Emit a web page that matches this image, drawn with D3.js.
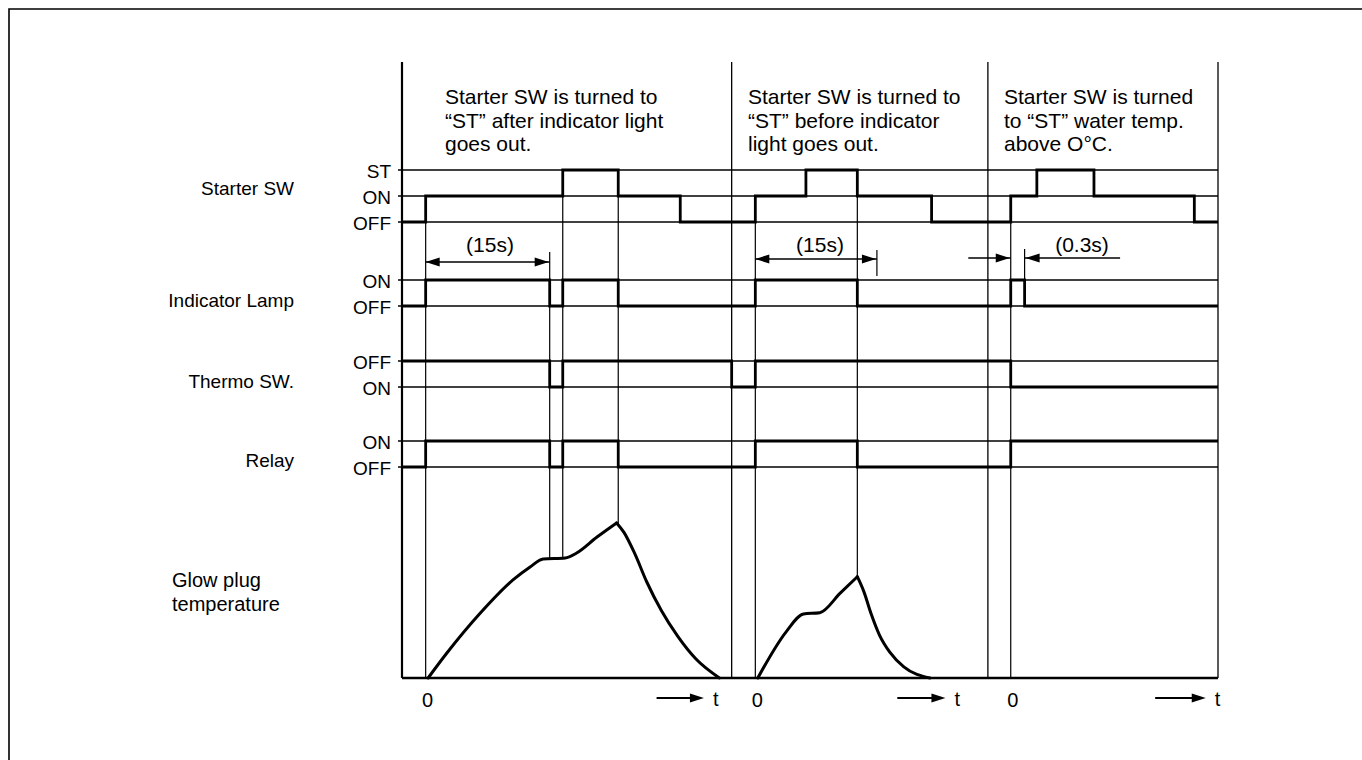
<!DOCTYPE html>
<html lang="en">
<head>
<meta charset="utf-8">
<title>Glow plug timing chart</title>
<script src="https://cdn.jsdelivr.net/npm/d3@7"></script>
<style>
  body { margin: 0; background: #fff; }
  svg text { font-family: "Liberation Sans", Arial, Helvetica, sans-serif; fill: #000; }
</style>
</head>
<body>
<svg id="chart" width="1362" height="760"></svg>
<script>
// time is in arbitrary units, the three cases sit side by side on 0..100
var sectionEdges = [0, 40.4, 71.8, 100];
var zeroTimes = [2.9, 43.3, 74.6];

var signals = ["Starter SW", "Indicator Lamp", "Thermo SW.", "Relay"];
var signalLevels = [["ST", "ON", "OFF"], ["ON", "OFF"], ["OFF", "ON"], ["ON", "OFF"]];

var starterSteps = [[0, "OFF"], [2.9, "ON"], [19.7, "ST"], [26.5, "ON"], [34.1, "OFF"], [43.3, "ON"], [49.5, "ST"], [55.8, "ON"], [64.9, "OFF"], [74.6, "ON"], [77.8, "ST"], [84.8, "ON"], [97.1, "OFF"]];
var lampSteps = [[0, "OFF"], [2.9, "ON"], [18.1, "OFF"], [19.7, "ON"], [26.5, "OFF"], [43.3, "ON"], [55.8, "OFF"], [74.6, "ON"], [76.3, "OFF"]];
var thermoSteps = [[0, "OFF"], [18.1, "ON"], [19.7, "OFF"], [40.4, "ON"], [43.3, "OFF"], [74.6, "ON"]];
var relaySteps = [[0, "OFF"], [2.9, "ON"], [18.1, "OFF"], [19.7, "ON"], [26.5, "OFF"], [43.3, "ON"], [55.8, "OFF"], [74.6, "ON"]];

// glow plug temperature, relative (0 = cold, 100 = top of panel)
var glowRise1 = [[3.2, 0], [5.5, 15.6], [9.6, 40.6], [13.6, 61.3], [15.7, 69.4], [17.3, 74.4], [20.0, 75], [21.4, 78.1], [23.9, 88.1], [26.3, 96.9]];
var glowFall1 = [[26.3, 96.9], [27.2, 91], [28.5, 78], [30.0, 60], [31.8, 42], [33.8, 26], [36.0, 12], [38.9, 0]];
var glowRise2 = [[43.6, 0], [47.1, 29], [49.2, 40], [51.2, 40.8], [53.7, 53], [55.8, 63.3]];
var glowFall2 = [[55.8, 63.3], [56.6, 54], [57.5, 40], [58.5, 27], [59.8, 16], [61.5, 7], [64.7, 0]];

var intervals = [[2.9, 18.1], [43.3, 58.2], [74.6, 76.3]];
var intervalLabels = ["(15s)", "(15s)", "(0.3s)"];

var captions = [
    ["Starter SW is turned to", "\u201cST\u201d after indicator light", "goes out."],
    ["Starter SW is turned to", "\u201cST\u201d before indicator", "light goes out."],
    ["Starter SW is turned", "to \u201cST\u201d water temp.", "above O\u00b0C."]
];

var svg = d3.select("#chart");

var x = d3.scaleLinear().domain([0, 100]).range([402, 1218]);
var yTemp = d3.scaleLinear().domain([0, 100]).range([678, 518]);
var base = yTemp(0);
var top0 = 62;

var rowTop = [170, 280, 361, 441];
var levelGap = 26;
function lv(i, name) {
    return rowTop[i] + signalLevels[i].indexOf(name) * levelGap;
}

// page frame
svg.append("path")
    .attr("d", "M9,760V9H1362")
    .attr("fill", "none").attr("stroke", "#000").attr("stroke-width", 1.6);

// section borders and left axis
svg.selectAll(".edge")
    .data(sectionEdges)
    .enter().append("line")
    .attr("x1", d => x(d)).attr("x2", d => x(d))
    .attr("y1", top0).attr("y2", base)
    .attr("stroke", "#000")
    .attr("stroke-width", (d, i) => i == 0 ? 2.2 : 1.3);

// thin level lines
signals.forEach(function (s, i) {
    signalLevels[i].forEach(function (l) {
        svg.append("line")
            .attr("x1", x(0) - 4).attr("x2", x(100))
            .attr("y1", lv(i, l)).attr("y2", lv(i, l))
            .attr("stroke", "#000").attr("stroke-width", 1.3);
    });
});

// waveforms
var allSteps = [starterSteps, lampSteps, thermoSteps, relaySteps];
var stepLine = d3.line().curve(d3.curveStepAfter);
allSteps.forEach(function (steps, i) {
    var pts = steps.map(d => [x(d[0]), lv(i, d[1])]);
    pts.push([x(100), lv(i, steps[steps.length - 1][1])]);
    svg.append("path")
        .attr("d", stepLine(pts))
        .attr("fill", "none").attr("stroke", "#000")
        .attr("stroke-width", 2.8).attr("stroke-linejoin", "miter");
});

// glow plug curves
var glow = d3.line().x(d => x(d[0])).y(d => yTemp(d[1])).curve(d3.curveMonotoneX);
[glowRise1, glowFall1, glowRise2, glowFall2].forEach(function (g) {
    svg.append("path")
        .attr("d", glow(g))
        .attr("fill", "none").attr("stroke", "#000")
        .attr("stroke-width", 3).attr("stroke-linecap", "round");
});

function curveAt(t) {
    var pts = glowRise1.concat(glowFall1, glowRise2, glowFall2);
    for (var k = 0; k < pts.length - 1; k++) {
        var a = pts[k], b = pts[k + 1];
        if (t >= a[0] && t <= b[0] && b[0] > a[0]) {
            return yTemp(a[1] + (b[1] - a[1]) * (t - a[0]) / (b[0] - a[0]));
        }
    }
    return base;
}

// thin guide lines at switching moments
var guides = [
    {t: zeroTimes[0], y0: lv(0, "ON"), y1: base},
    {t: intervals[0][1], y0: 252, y1: curveAt(intervals[0][1])},
    {t: starterSteps[2][0], y0: lv(0, "ST"), y1: curveAt(starterSteps[2][0])},
    {t: starterSteps[3][0], y0: lv(0, "ST"), y1: curveAt(starterSteps[3][0])},
    {t: zeroTimes[1], y0: lv(0, "ON"), y1: base},
    {t: starterSteps[7][0], y0: lv(0, "ST"), y1: curveAt(starterSteps[7][0])},
    {t: intervals[1][1], y0: 250, y1: 276},
    {t: zeroTimes[2], y0: lv(0, "ON"), y1: base},
    {t: intervals[2][1], y0: 249, y1: lv(1, "ON")}
];
svg.selectAll(".guide")
    .data(guides)
    .enter().append("line")
    .attr("x1", d => x(d.t)).attr("x2", d => x(d.t))
    .attr("y1", d => d.y0).attr("y2", d => d.y1)
    .attr("stroke", "#000").attr("stroke-width", 1.2);

// baseline
svg.append("line")
    .attr("x1", x(0)).attr("x2", x(100))
    .attr("y1", base).attr("y2", base)
    .attr("stroke", "#000").attr("stroke-width", 2.6);

function arrowHead(xTip, y, dir) {
    var len = 14, w = 4.5;
    svg.append("path")
        .attr("d", "M" + xTip + "," + y + "L" + (xTip - dir * len) + "," + (y - w) + "L" + (xTip - dir * len) + "," + (y + w) + "Z")
        .attr("fill", "#000");
}
function hLine(x1, x2, y, w) {
    svg.append("line")
        .attr("x1", x1).attr("x2", x2).attr("y1", y).attr("y2", y)
        .attr("stroke", "#000").attr("stroke-width", w || 1.4);
}

// interval arrows
var arrowY = [262, 259, 258];
hLine(x(intervals[0][0]), x(intervals[0][1]), arrowY[0]);
arrowHead(x(intervals[0][0]), arrowY[0], -1);
arrowHead(x(intervals[0][1]) - 1, arrowY[0], 1);
hLine(x(intervals[1][0]), x(intervals[1][1]), arrowY[1]);
arrowHead(x(intervals[1][0]), arrowY[1], -1);
arrowHead(x(intervals[1][1]) - 1, arrowY[1], 1);
hLine(x(69.4), x(intervals[2][0]), arrowY[2]);
arrowHead(x(intervals[2][0]) - 1, arrowY[2], 1);
hLine(x(intervals[2][1]), x(88.0), arrowY[2]);
arrowHead(x(intervals[2][1]) + 1, arrowY[2], -1);

var labelX = [490, 820, 1082];
intervalLabels.forEach(function (s, i) {
    svg.append("text")
        .attr("x", labelX[i]).attr("y", 252)
        .attr("text-anchor", "middle")
        .attr("font-size", 21)
        .text(s);
});

// captions
var captionX = [445, 748, 1004];
captions.forEach(function (lines, i) {
    lines.forEach(function (s, k) {
        svg.append("text")
            .attr("x", captionX[i]).attr("y", 104 + k * 23.5)
            .attr("font-size", 21)
            .text(s);
    });
});

// signal names and level names
var nameY = [195, 307, 388, 467];
signals.forEach(function (s, i) {
    svg.append("text")
        .attr("x", 294).attr("y", nameY[i])
        .attr("text-anchor", "end")
        .attr("font-size", 19)
        .text(s);
    signalLevels[i].forEach(function (l) {
        svg.append("text")
            .attr("x", 391).attr("y", lv(i, l) + 8)
            .attr("text-anchor", "end")
            .attr("font-size", 19)
            .text(l);
    });
});

svg.append("text").attr("x", 172).attr("y", 587).attr("font-size", 20).text("Glow plug");
svg.append("text").attr("x", 172).attr("y", 611).attr("font-size", 20).text("temperature");

// time axis labels
zeroTimes.forEach(function (t) {
    svg.append("text")
        .attr("x", x(t) + 2).attr("y", 707)
        .attr("text-anchor", "middle")
        .attr("font-size", 20)
        .text("0");
});
var tArrows = [[31.2, 37.0], [60.7, 66.6], [92.3, 98.5]];
tArrows.forEach(function (a) {
    hLine(x(a[0]), x(a[1]) - 8, 698, 2);
    arrowHead(x(a[1]), 698, 1);
    svg.append("text")
        .attr("x", x(a[1]) + 9).attr("y", 706)
        .attr("font-size", 20)
        .text("t");
});
</script>
</body>
</html>
